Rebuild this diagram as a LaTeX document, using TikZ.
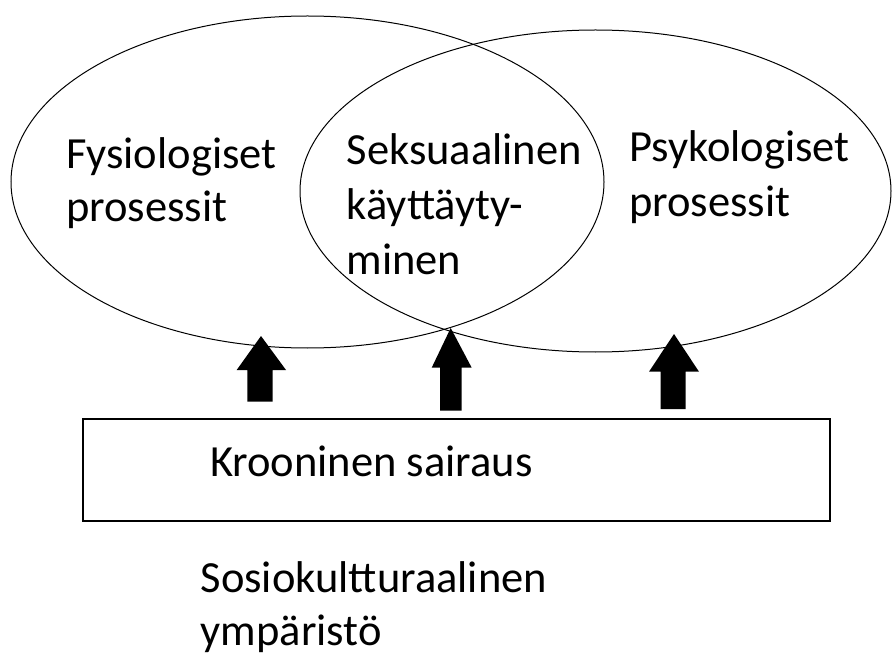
\documentclass[tikz,border=0pt]{standalone}
\usepackage{fontspec}
\setmainfont{Carlito}
\usetikzlibrary{shapes.geometric}
\begin{document}
\begin{tikzpicture}[x=1pt,y=-1pt,
  lbl/.style={anchor=base west, inner sep=0pt, text=black, font=\fontsize{44.5}{54}\selectfont},
  oval/.style={ellipse, draw=black, line width=1pt, inner sep=0pt},
  framebox/.style={draw=black, line width=2pt, inner sep=0pt},
  blockarrow/.style={fill=black}]
\useasboundingbox (0,0) rectangle (892,655);
\fill[white] (0,0) rectangle (892,655);
% ellipses
\node[oval, minimum width=593pt, minimum height=332pt] (fys) at (307.5,182) {};
\node[oval, minimum width=591pt, minimum height=322pt] (psy) at (595.5,191) {};
% box
\node[framebox, minimum width=747pt, minimum height=102pt] (sair) at (456.8,470) {};
% labels
\node[lbl] (f1) at (66,168.3) {Fysiologiset};
\node[lbl] (f2) at (66,221.7) {prosessit};
\node[lbl] (s1) at (346.5,165) {Seksuaalinen};
\node[lbl] (s2) at (346.5,220) {käyttäyty-};
\node[lbl] (s3) at (346.5,275) {minen};
\node[lbl] (p1) at (629,161.7) {Psykologiset};
\node[lbl] (p2) at (629,216.7) {prosessit};
\node[lbl] (k1) at (210,476.7) {Krooninen sairaus};
\node[lbl] (y1) at (200.5,592.5) {Sosiokultturaalinen};
\node[lbl] (y2) at (200.5,645.5) {ympäristö};
% block arrows
\fill[blockarrow] (247.3,401.7) -- (247.3,370) -- (236.7,370) -- (261,336) -- (286,370) -- (272.7,370) -- (272.7,401.7) -- cycle;
\fill[blockarrow] (440,410.7) -- (440,367.7) -- (431.7,367.7) -- (450.7,328) -- (471.7,367.7) -- (461.7,367.7) -- (461.7,410.7) -- cycle;
\fill[blockarrow] (660.7,409) -- (660.7,371.7) -- (649,371.7) -- (674,334) -- (699,371.7) -- (685.7,371.7) -- (685.7,409) -- cycle;
\end{tikzpicture}
\end{document}
